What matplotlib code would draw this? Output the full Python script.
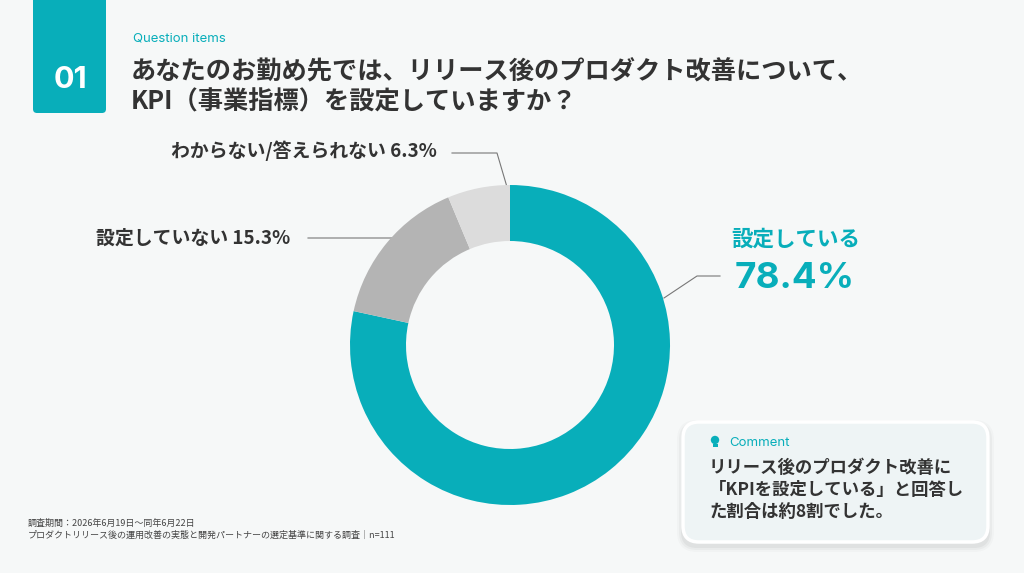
import matplotlib
matplotlib.use("Agg")
import matplotlib.pyplot as plt
from matplotlib.patches import FancyBboxPatch, Rectangle, Circle
import numpy as np

plt.rcParams["font.family"] = ["Noto Sans CJK JP", "DejaVu Sans"]

# --- data ------------------------------------------------------------------ #
labels = ["設定している", "設定していない", "わからない/答えられない"]
shares = [78.4, 15.3, 6.3]
colors = ["#08AEBA", "#B4B4B4", "#DCDCDC"]

title_lines = ["あなたのお勤め先では、リリース後のプロダクト改善について、",
               "KPI（事業指標）を設定していますか？"]
comment_lines = ["リリース後のプロダクト改善に",
                 "「KPIを設定している」と回答し",
                 "た割合は約8割でした。"]
note_lines = ["調査期間：2026年6月19日〜同年6月22日",
              "プロダクトリリース後の運用改善の実態と開発パートナーの選定基準に関する調査｜n=111"]

TEAL = "#08AEBA"
DARK = "#333333"
W, H = 1024, 573

fig = plt.figure(figsize=(W / 100, H / 100), dpi=100)
fig.patch.set_facecolor("#F6F8F8")

# overlay axes in pixel coordinates for layout elements
ov = fig.add_axes([0, 0, 1, 1])
ov.set_xlim(0, W)
ov.set_ylim(H, 0)
ov.axis("off")

# header block
ov.add_patch(FancyBboxPatch((33, -20), 73, 133, boxstyle="round,pad=0,rounding_size=4",
                            fc=TEAL, ec="none"))
ov.text(70, 80, "01", ha="center", va="center", color="white", fontsize=22,
        fontweight="bold", family=["Inter", "DejaVu Sans"])
ov.text(133, 39, "Question items", ha="left", va="center", color=TEAL, fontsize=9.5,
        family=["Inter", "DejaVu Sans"])
for i, line in enumerate(title_lines):
    ov.text(131, 72 + i * 30, line, ha="left", va="center", color=DARK,
            fontsize=18.2, fontweight="bold")

# --- donut ------------------------------------------------------------------ #
cx, cy, r = 510, 345, 160
pax = fig.add_axes([(cx - r) / W, (H - cy - r) / H, 2 * r / W, 2 * r / H])
pax.pie(shares, colors=colors, startangle=90, counterclock=False,
        wedgeprops=dict(width=0.35, edgecolor="none"))
pax.set_xlim(-1, 1)
pax.set_ylim(-1, 1)
pax.set_aspect("auto")
pax.axis("off")

# leader lines (pixel layout)
lc = "#777777"
ov.plot([452, 497, 507], [153, 153, 187], color=lc, lw=0.8)
ov.plot([308, 434, 456], [238, 238, 231], color=lc, lw=0.8)
ov.plot([664, 697, 720], [298, 276, 276], color=lc, lw=0.8)

ov.text(437, 151, f"{labels[2]} {shares[2]}%", ha="right", va="center",
        color=DARK, fontsize=13.6, fontweight="bold")
ov.text(290, 238, f"{labels[1]} {shares[1]}%", ha="right", va="center",
        color=DARK, fontsize=13.6, fontweight="bold")
ov.text(731, 239, labels[0], ha="left", va="center", color=TEAL,
        fontsize=15.5, fontweight="bold")
ov.text(735, 279, f"{shares[0]}%", ha="left", va="center", color=TEAL,
        fontsize=26.5, fontweight="bold", family=["Inter", "DejaVu Sans"])

# --- comment box ------------------------------------------------------------ #
for k, a in enumerate([0.04, 0.03, 0.02]):
    ov.add_patch(FancyBboxPatch((683 - 2 - k * 2, 422 + 2 - k * 2), 305 + 4 + k * 4,
                                120 + 4 + k * 4,
                                boxstyle="round,pad=0,rounding_size=%d" % (16 + k * 2),
                                fc="black", ec="none", alpha=a))
ov.add_patch(FancyBboxPatch((683, 422), 305, 120, boxstyle="round,pad=0,rounding_size=16",
                            fc="#EEF4F5", ec="white", lw=2.5))
ov.add_patch(Circle((715, 440), 4.2, fc=TEAL, ec="none"))
ov.add_patch(Rectangle((712.5, 444), 5, 3, fc=TEAL, ec="none"))
ov.text(729, 443, "Comment", ha="left", va="center", color=TEAL, fontsize=9.5,
        family=["Inter", "DejaVu Sans"])
for i, line in enumerate(comment_lines):
    ov.text(709, 468 + i * 22, line, ha="left", va="center", color=DARK,
            fontsize=12.5, fontweight="bold")

# --- footnote ---------------------------------------------------------------- #
for i, line in enumerate(note_lines):
    ov.text(28, 523 + i * 12, line, ha="left", va="center", color="#444444", fontsize=6.5)

fig.savefig("out.png", dpi=100, facecolor=fig.get_facecolor())
